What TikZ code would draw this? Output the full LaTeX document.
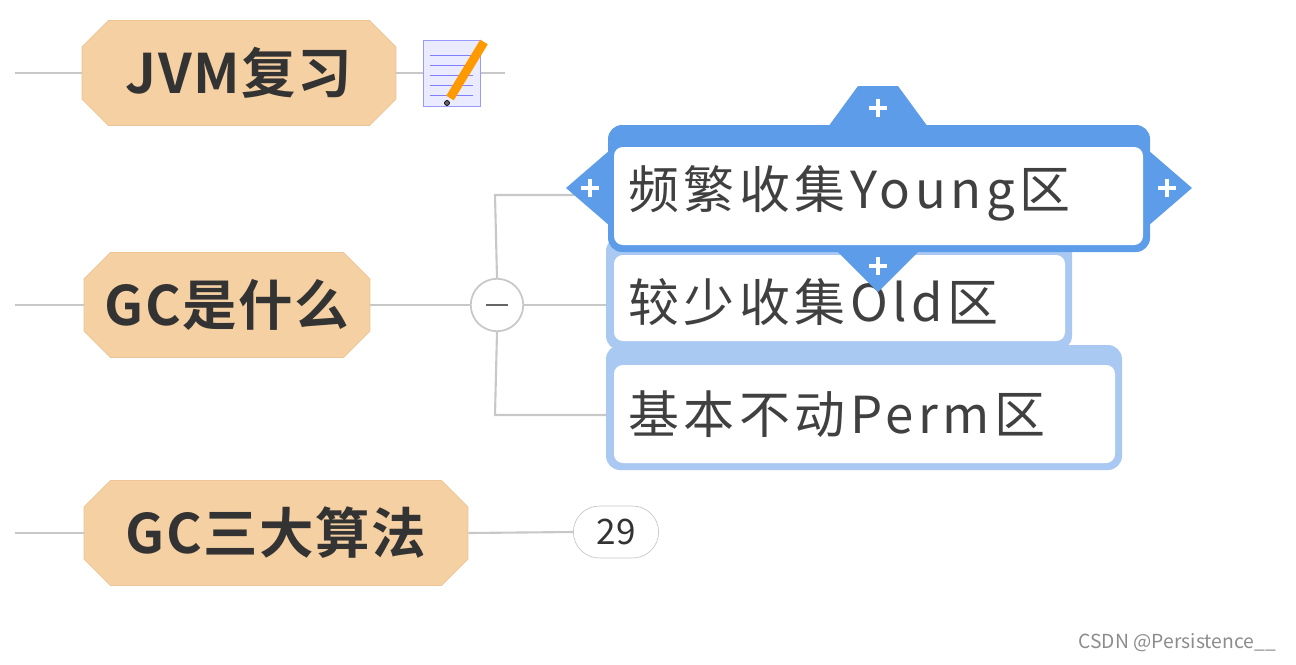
\documentclass[tikz,border=0pt]{standalone}
\usepackage{fontspec}
\setmainfont{Noto Sans CJK SC}
\newfontfamily\leaffont[LetterSpace=9]{Noto Sans CJK SC}
\newfontfamily\topicfont[LetterSpace=3]{Noto Sans CJK SC Bold}
\usetikzlibrary{positioning,shapes.misc}
\definecolor{peach}{RGB}{245,208,162}
\definecolor{peachline}{RGB}{236,196,150}
\definecolor{selblue}{RGB}{92,156,232}
\definecolor{lightblue}{RGB}{170,201,242}
\definecolor{linegray}{RGB}{200,200,200}

\tikzset{
  topic/.style={chamfered rectangle, chamfered rectangle xsep=0.4cm, fill=peach, draw=peachline,
    minimum height=2.1cm, inner xsep=0pt, font=\fontsize{31}{34}\selectfont\topicfont, text=black!80},
  leaf/.style={font=\fontsize{29}{32}\selectfont\leaffont, text=black!75, anchor=west},
  conn/.style={linegray, line width=1.2pt},
  plus/.style={white, line width=2.5pt}
}

\begin{document}
\begin{tikzpicture}[x=0.02cm,y=-0.02cm]
\useasboundingbox (0,0) rectangle (1296,664);

% Main topics
\node[topic, minimum width=6.28cm] (jvm) at (239,73) {JVM复习};
\node[topic, minimum width=5.72cm] (gc) at (227,305) {GC是什么};
\node[topic, minimum width=7.68cm] (algo) at (276,533) {GC三大算法};
\coordinate (jvmin) at (15,73);
\coordinate (gcin) at (15,305);
\coordinate (algoin) at (15,533);
\draw[conn] (jvmin) -- (jvm.west);
\draw[conn] (gcin) -- (gc.west);
\draw[conn] (algoin) -- (algo.west);

% Note icon
\coordinate (noteend) at (505,73);
\draw[conn] (jvm.east) -- (noteend);
\draw[fill=blue!8, draw=blue!40] (423,40) rectangle (480,106);
\foreach \y in {55,65,75,85,95} \draw[blue!50] (430,\y) -- (473,\y);
\draw[line width=5pt, orange!80!yellow] (484,42) -- (450,98);
\draw[fill=black!60] (447,103) circle (2.5);

% Collapse button and branches
\node[circle, draw=linegray, fill=white, minimum size=1.05cm, line width=1pt] (fold) at (497,305) {};
\draw[black!60, line width=1.2pt] (486,305) -- (508,305);
\draw[conn] (gc.east) -- (fold.west);
\coordinate (b1) at (495,195);
\coordinate (b3) at (495,415);
\draw[conn] (fold.north) -- (b1) -- (614,195);
\draw[conn] (fold.south) -- (b3) -- (610,415);
\draw[conn] (fold.east) -- (610,305);

% Leaf 3
\draw[fill=lightblue, draw=none, rounded corners=8] (606,345) rectangle (1122,470);
\draw[fill=white, draw=none, rounded corners=5] (614,365) rectangle (1115,463);
\node[leaf] (perm) at (622,414) {基本不动Perm区};

% Leaf 2
\draw[fill=lightblue, draw=none, rounded corners=8] (606,237) rectangle (1072,350);
\draw[fill=white, draw=none, rounded corners=5] (614,255) rectangle (1065,341);
\node[leaf] (old) at (622,302) {较少收集Old区};

% Leaf 1 (selected)
\fill[selblue, rounded corners=8] (608,125) rectangle (1150,252);
\fill[selblue] (610,150) -- (566,188) -- (610,226) -- cycle;
\fill[selblue] (1148,150) -- (1192,188) -- (1148,226) -- cycle;
\fill[selblue] (828,127) -- (858,86) -- (898,86) -- (928,127) -- cycle;
\fill[selblue] (836,250) -- (878,292) -- (920,250) -- cycle;
\fill[white, rounded corners=5] (614,147) rectangle (1143,245);
\foreach \cx/\cy in {590/188, 1167/188, 878/108, 878/266} {
  \draw[plus] (\cx-9,\cy) -- (\cx+9,\cy);
  \draw[plus] (\cx,\cy-9) -- (\cx,\cy+9);
}
\node[leaf] (young) at (622,193) {频繁收集Young区};

% Count
\node[rounded rectangle, draw=linegray, fill=white, minimum width=1.94cm, minimum height=1.04cm,
  font=\fontsize{20}{24}\selectfont, text=black!80] (count) at (616,532) {29};
\draw[conn] (algo.east) -- (count.west);

% Watermark
\node[anchor=east, font=\fontsize{11}{13}\selectfont, text=black!45] (mark) at (1282,643) {CSDN @Persistence\_\_};
\end{tikzpicture}
\end{document}
